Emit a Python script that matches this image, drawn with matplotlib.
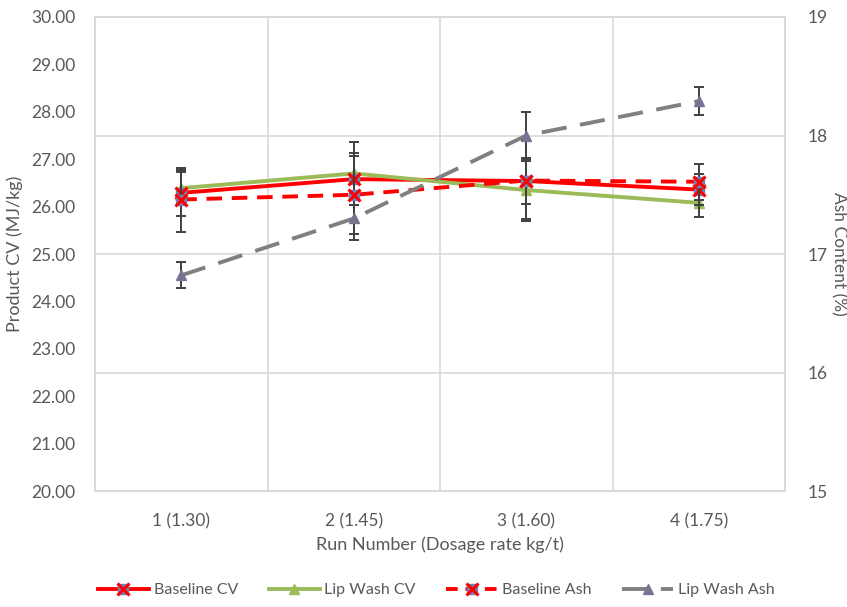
import numpy as np
import matplotlib
matplotlib.use("Agg")
import matplotlib.pyplot as plt
from matplotlib.lines import Line2D
from matplotlib.transforms import blended_transform_factory

plt.rcParams['font.family'] = ['Lato', 'DejaVu Sans']

runs = ['1 (1.30)', '2 (1.45)', '3 (1.60)', '4 (1.75)']
baseline_cv = [26.29, 26.58, 26.54, 26.36]
baseline_cv_err = [0.48, 0.55, 0.49, 0.33]
lipwash_cv = [26.39, 26.70, 26.35, 26.08]
lipwash_cv_err = [0.33, 0.67, 0.62, 0.30]
baseline_ash = [17.46, 17.50, 17.62, 17.61]
baseline_ash_err = [0.27, 0.33, 0.34, 0.15]
lipwash_ash = [16.82, 17.30, 18.00, 18.29]
lipwash_ash_err = [0.11, 0.18, 0.20, 0.12]

cv_ticks = np.arange(20, 31, 1)
ash_ticks = [15, 16, 17, 18, 19]
ash_grid = [16, 17, 18]

RED = '#FF0000'
GREEN = '#9BBB59'
GREY = '#808080'
TRI = '#7A7290'
BOX = '#6C84BD'
ERR = '#404040'
TXT = '#595959'
GRID = '#D9D9D9'

fig = plt.figure(figsize=(8.47, 6.07), dpi=100)
ax = fig.add_axes([0.1122, 0.191, 0.8146, 0.781])
ax2 = ax.twinx()
x = np.arange(len(runs))

# grid (belongs to secondary axis) drawn on primary so it stays behind
tr = blended_transform_factory(ax.transAxes, ax2.transData)
for v in ash_grid:
    ax.plot([0, 1], [v, v], transform=tr, color=GRID, lw=1.2, zorder=0)
for v in x[:-1] + 0.5:
    ax.axvline(v, color=GRID, lw=1.2, zorder=0)

eb = dict(fmt='none', ecolor=ERR, elinewidth=1.4, capsize=3.5, capthick=1.4, zorder=4)
ax.errorbar(x, baseline_cv, yerr=baseline_cv_err, **eb)
ax.errorbar(x, lipwash_cv, yerr=lipwash_cv_err, **eb)
ax2.errorbar(x, baseline_ash, yerr=baseline_ash_err, **eb)
ax2.errorbar(x, lipwash_ash, yerr=lipwash_ash_err, **eb)

ax.plot(x, baseline_cv, color=RED, lw=2.8, zorder=3)
ax.plot(x, baseline_cv, ls='none', marker='s', ms=7, mfc=BOX, mec=BOX, zorder=5)
ax.plot(x, baseline_cv, ls='none', marker='x', ms=8, mew=2.2, color=RED, zorder=6)
ax.plot(x, lipwash_cv, color=GREEN, lw=2.8, marker='^', ms=7, mfc=GREEN, mec=GREEN, zorder=3)

ax2.plot(x, baseline_ash, color=RED, lw=2.8, ls=(0, (4, 2.5)), zorder=3)
ax2.plot(x, baseline_ash, ls='none', marker='s', ms=7, mfc=BOX, mec=BOX, zorder=5)
ax2.plot(x, baseline_ash, ls='none', marker='x', ms=8, mew=2.2, color=RED, zorder=6)
ax2.plot(x, lipwash_ash, color=GREY, lw=2.8, ls=(0, (6.5, 3.5)), zorder=3)
ax2.plot(x, lipwash_ash, ls='none', marker='^', ms=7, mfc=TRI, mec=TRI, zorder=5)

ax.set_xlim(-0.5, len(runs) - 0.5)
ax.set_ylim(20, 30)
ax2.set_ylim(15, 19)
ax.set_xticks(x)
ax.set_xticklabels(runs)
ax.set_yticks(cv_ticks)
ax.set_yticklabels([f'{v:.2f}' for v in cv_ticks])
ax2.set_yticks(ash_ticks)

ax.tick_params(axis='x', length=0, pad=16, labelsize=12.5, colors=TXT)
ax.tick_params(axis='y', length=0, pad=14, labelsize=12.5, colors=TXT)
ax2.tick_params(axis='y', length=0, pad=16, labelsize=12.5, colors=TXT)

for a in (ax, ax2):
    for s in a.spines.values():
        s.set_color(GRID)
        s.set_linewidth(1.2)

ax.set_xlabel('Run Number (Dosage rate kg/t)', fontsize=13, color=TXT, labelpad=5)
ax.set_ylabel('Product CV (MJ/kg)', fontsize=13, color=TXT, labelpad=6)
ax2.set_ylabel('Ash Content (%)', fontsize=12.5, color=TXT, rotation=270, va='center')
ax2.yaxis.set_label_coords(1.078, 0.5)

h1 = (Line2D([], [], color=RED, lw=2.8),
      Line2D([], [], ls='none', marker='s', ms=7, mfc=BOX, mec=BOX),
      Line2D([], [], ls='none', marker='x', ms=8, mew=2.2, color=RED))
h2 = Line2D([], [], color=GREEN, lw=2.8, marker='^', ms=7, mfc=GREEN, mec=GREEN)
h3 = (Line2D([], [], color=RED, lw=2.8, ls=(0, (3, 2))),
      Line2D([], [], ls='none', marker='s', ms=7, mfc=BOX, mec=BOX),
      Line2D([], [], ls='none', marker='x', ms=8, mew=2.2, color=RED))
h4 = Line2D([], [], color=GREY, lw=2.8, ls=(0, (6.5, 3.5)), marker='^', ms=7, mfc=TRI, mec=TRI)
fig.legend([h1, h2, h3, h4], ['Baseline CV', 'Lip Wash CV', 'Baseline Ash', 'Lip Wash Ash'],
           loc='center', bbox_to_anchor=(0.515, 0.028), ncol=4, frameon=False,
           fontsize=11.5, labelcolor=TXT, handlelength=3.2, handletextpad=0.3,
           columnspacing=1.9)

fig.savefig('out.png', dpi=100)
